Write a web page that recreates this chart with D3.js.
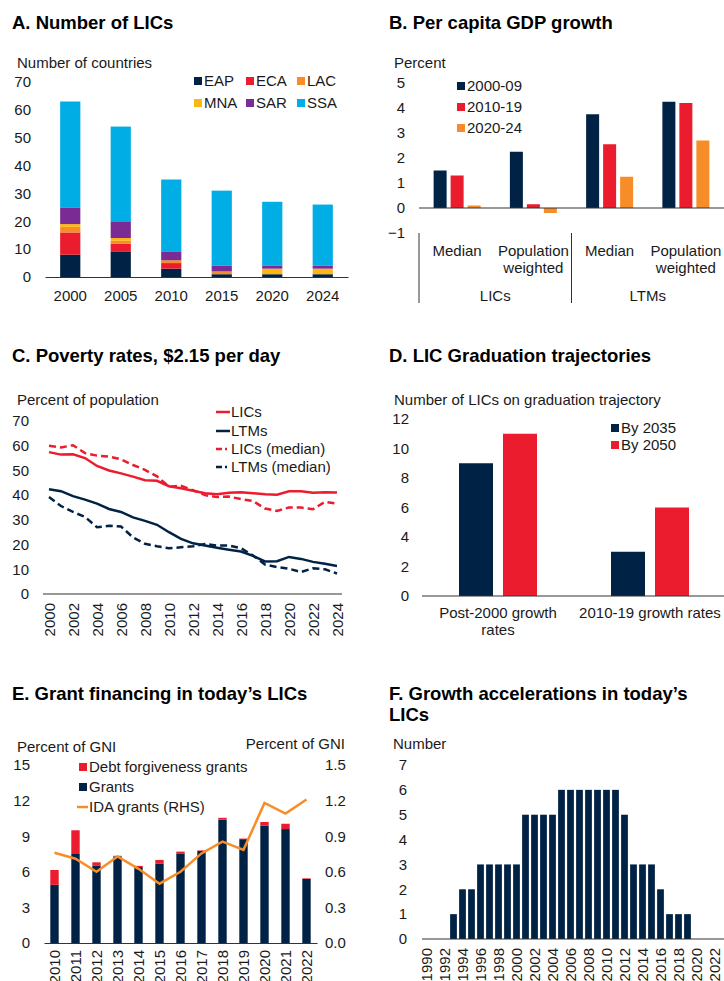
<!DOCTYPE html>
<html>
<head>
<meta charset="utf-8">
<script src="https://cdn.jsdelivr.net/npm/d3@7"></script>
<style>
  body { margin: 0; background: #fff; }
  svg { display: block; font-family: "Liberation Sans", Arial, sans-serif; }
  .title { font-size: 18.5px; font-weight: bold; fill: #000; }
  .lbl { font-size: 15px; fill: #1a1a1a; }
  .axis text { font-size: 15px; fill: #1a1a1a; font-family: "Liberation Sans", Arial, sans-serif; }
  .axis path { stroke: #333; stroke-width: 1.2; }
</style>
</head>
<body>
<div id="chart"></div>
<script>
// ---- colours
const NAVY = "#002345", RED = "#EB1C2D", ORANGE = "#F78D28",
      YELLOW = "#FDB714", PURPLE = "#7A2C94", CYAN = "#00ADE4";

// ---- A. Number of LICs
const aYears = ["2000", "2005", "2010", "2015", "2020", "2024"];
const aRegions = ["EAP", "ECA", "LAC", "MNA", "SAR", "SSA"];
const aEAP = [8, 9, 3, 1, 1, 1];
const aECA = [8, 3, 2, 0, 0, 0];
const aLAC = [2, 1, 1, 1, 0, 0];
const aMNA = [1, 1, 0, 0, 2, 2];
const aSAR = [6, 6, 3, 2, 1, 1];
const aSSA = [38, 34, 26, 27, 23, 22];

// ---- B. Per capita GDP growth
const bGroups = ["LICs Median", "LICs Pop", "LTMs Median", "LTMs Pop"];
const bSeries = ["2000-09", "2010-19", "2020-24"];
const b2000 = [1.5, 2.25, 3.75, 4.25];
const b2010 = [1.3, 0.15, 2.55, 4.2];
const b2020 = [0.1, -0.2, 1.25, 2.7];

// ---- C. Poverty rates
const cYears = d3.range(2000, 2025);
const cLICs = [57.4, 56.4, 56.5, 55, 51.8, 50, 48.8, 47.5, 46, 45.8, 43.6, 42.8, 41.8, 40.8, 40.4, 41, 41.2, 40.8, 40.4, 40.2, 41.6, 41.6, 41, 41.2, 41.1];
const cLTMs = [42.4, 41.6, 39.6, 38.2, 36.6, 34.4, 33.2, 31, 29.6, 28, 25, 22.3, 20.5, 19.6, 18.7, 17.9, 17.2, 15.4, 13.2, 13.3, 15, 14.2, 13, 12.2, 11.3];
const cLICsMed = [60, 59.3, 60.2, 57, 56, 55.6, 54.5, 52.2, 50.2, 47.6, 43.4, 43.8, 42, 40, 39.2, 39.4, 38.4, 37.6, 34.6, 33.6, 35, 35, 34.3, 37.3, 36.6];
const cLTMsMed = [39.2, 35.6, 33.2, 31.2, 27, 27.6, 27.3, 22.9, 20.3, 19.3, 18.5, 18.9, 19.3, 20.2, 19.6, 19.6, 18.5, 15.6, 11.9, 10.9, 10.2, 8.9, 10.4, 10, 8.3];

// ---- D. LIC Graduation trajectories
const dGroups = ["Post-2000 growth rates", "2010-19 growth rates"];
const dSeries = ["By 2035", "By 2050"];
const d2035 = [9, 3];
const d2050 = [11, 6];

// ---- E. Grant financing
const eYears = d3.range(2010, 2023).map(String);
const eGrants = [4.9, 7.5, 6.5, 7.3, 6.4, 6.7, 7.55, 7.75, 10.4, 8.75, 9.9, 9.6, 5.4];
const eDebt = [1.25, 2.0, 0.3, 0.05, 0.1, 0.3, 0.15, 0.05, 0.15, 0.05, 0.3, 0.45, 0.05];
const eIDA = [0.76, 0.71, 0.6, 0.73, 0.625, 0.5, 0.6, 0.755, 0.855, 0.785, 1.18, 1.09, 1.21];

// ---- F. Growth accelerations
const fYears = d3.range(1990, 2024).map(String);
const fCount = [0, 0, 0, 1, 2, 2, 3, 3, 3, 3, 3, 5, 5, 5, 5, 6, 6, 6, 6, 6, 6, 6, 5, 3, 3, 3, 2, 1, 1, 1, 0, 0, 0, 0];

const svg = d3.select("#chart").append("svg")
    .attr("width", 724)
    .attr("height", 981);

function text(x, y, s, cls, anchor) {
    return svg.append("text")
        .attr("class", cls || "lbl")
        .attr("x", x).attr("y", y)
        .attr("text-anchor", anchor || "start")
        .text(s);
}

function leftAxis(scale, x, pad, ticks, fmt) {
    const ax = d3.axisLeft(scale).tickSize(0).tickPadding(pad).tickValues(ticks)
        .tickFormat(fmt || d3.format("d"));
    svg.append("g").attr("class", "axis")
        .attr("transform", `translate(${x},0)`)
        .call(ax)
        .call(g => g.select(".domain").remove());
}

function legendSquare(x, y, color, label, size) {
    const s = size || 8;
    svg.append("rect").attr("x", x).attr("y", y - s / 2).attr("width", s).attr("height", s).attr("fill", color);
    text(x + s + 2, y + 5, label);
}

// ========== Panel A ==========
(function() {
    text(12, 29, "A. Number of LICs", "title");
    text(17, 68, "Number of countries");

    const x = d3.scaleBand().domain(aYears).range([45, 348]).paddingInner(0.6).paddingOuter(0.3);
    const y = d3.scaleLinear().domain([0, 70]).range([277, 82]);

    const rows = aYears.map((yr, i) => ({
        year: yr, EAP: aEAP[i], ECA: aECA[i], LAC: aLAC[i], MNA: aMNA[i], SAR: aSAR[i], SSA: aSSA[i]
    }));
    const color = d3.scaleOrdinal().domain(aRegions).range([NAVY, RED, ORANGE, YELLOW, PURPLE, CYAN]);
    const series = d3.stack().keys(aRegions)(rows);

    svg.append("g").selectAll("g")
        .data(series)
        .join("g")
        .attr("fill", d => color(d.key))
        .selectAll("rect")
        .data(d => d)
        .join("rect")
        .attr("x", d => x(d.data.year))
        .attr("width", x.bandwidth())
        .attr("y", d => y(d[1]))
        .attr("height", d => y(d[0]) - y(d[1]));

    leftAxis(y, 45, 14, d3.range(0, 71, 10));

    svg.append("g").attr("class", "axis")
        .attr("transform", "translate(0,277)")
        .call(d3.axisBottom(x).tickSize(0).tickSizeOuter(0).tickPadding(13));

    const lx = [194, 246, 297];
    aRegions.forEach((r, i) => {
        legendSquare(lx[i % 3], i < 3 ? 81 : 103, color(r), r, 8);
    });
})();

// ========== Panel B ==========
(function() {
    text(389, 29, "B. Per capita GDP growth", "title");
    text(394, 68, "Percent");

    const x0 = d3.scaleBand().domain(bGroups).range([419, 724]);
    const x1 = d3.scaleBand().domain(bSeries).range([0, 47]).paddingInner(4 / 17);
    const y = d3.scaleLinear().domain([-1, 5]).range([233, 83]);
    const color = d3.scaleOrdinal().domain(bSeries).range([NAVY, RED, ORANGE]);
    const vals = [b2000, b2010, b2020];
    const off = (x0.bandwidth() - 47) / 2;

    const data = [];
    bGroups.forEach((g, i) => bSeries.forEach((s, j) => data.push({ g, s, v: vals[j][i] })));

    svg.append("g").selectAll("rect")
        .data(data)
        .join("rect")
        .attr("x", d => x0(d.g) + off + x1(d.s))
        .attr("width", x1.bandwidth())
        .attr("y", d => y(Math.max(0, d.v)))
        .attr("height", d => Math.abs(y(d.v) - y(0)))
        .attr("fill", d => color(d.s));

    leftAxis(y, 419, 14, d3.range(-1, 6));

    svg.append("line")
        .attr("x1", 419).attr("x2", 724)
        .attr("y1", y(0)).attr("y2", y(0))
        .attr("stroke", "#333").attr("stroke-width", 1.2);

    // category labels
    const sub = [["Median"], ["Population", "weighted"], ["Median"], ["Population", "weighted"]];
    bGroups.forEach((g, i) => {
        const cx = x0(g) + x0.bandwidth() / 2;
        sub[i].forEach((s, k) => text(cx, 256 + k * 17, s, "lbl", "middle"));
    });
    text((x0(bGroups[0]) + x0(bGroups[1]) + x0.bandwidth()) / 2, 301, "LICs", "lbl", "middle");
    text((x0(bGroups[2]) + x0(bGroups[3]) + x0.bandwidth()) / 2, 301, "LTMs", "lbl", "middle");
    [x0(bGroups[0]), x0(bGroups[2])].forEach(xx => {
        svg.append("line")
            .attr("x1", xx).attr("x2", xx).attr("y1", 233).attr("y2", 303)
            .attr("stroke", "#333").attr("stroke-width", 1);
    });

    bSeries.forEach((s, i) => legendSquare(457, 86 + i * 21, color(s), s, 8));
})();

// ========== Panel C ==========
(function() {
    text(12, 362, "C. Poverty rates, $2.15 per day", "title");
    text(17, 405, "Percent of population");

    const x = d3.scalePoint().domain(cYears).range([49, 337]);
    const y = d3.scaleLinear().domain([0, 70]).range([594, 421]);

    leftAxis(y, 43, 14, d3.range(0, 71, 10));

    svg.append("line")
        .attr("x1", 43).attr("x2", 342)
        .attr("y1", 594).attr("y2", 594)
        .attr("stroke", "#333").attr("stroke-width", 1.2);

    svg.append("g").attr("class", "axis")
        .attr("transform", "translate(0,594)")
        .call(d3.axisBottom(x).tickSize(0).tickValues(cYears.filter(yr => yr % 2 === 0)))
        .call(g => g.select(".domain").remove())
        .selectAll("text")
        .attr("transform", "rotate(-90)")
        .attr("x", -9)
        .attr("y", 0)
        .attr("dy", "0.35em")
        .style("text-anchor", "end");

    const line = d3.line().x((d, i) => x(cYears[i])).y(d => y(d));
    const lines = [
        { v: cLICs, c: RED, dash: null, name: "LICs" },
        { v: cLTMs, c: NAVY, dash: null, name: "LTMs" },
        { v: cLICsMed, c: RED, dash: "7,4", name: "LICs (median)" },
        { v: cLTMsMed, c: NAVY, dash: "7,4", name: "LTMs (median)" }
    ];
    lines.forEach(l => {
        svg.append("path")
            .datum(l.v)
            .attr("d", line)
            .attr("fill", "none")
            .attr("stroke", l.c)
            .attr("stroke-width", 2.5)
            .attr("stroke-dasharray", l.dash);
    });

    const ly = [412, 431, 449, 467];
    lines.forEach((l, i) => {
        svg.append("line")
            .attr("x1", 216).attr("x2", 230)
            .attr("y1", ly[i]).attr("y2", ly[i])
            .attr("stroke", l.c).attr("stroke-width", 2.5)
            .attr("stroke-dasharray", l.dash ? "6,3,2,3" : null);
        text(231, ly[i] + 5, l.name);
    });
})();

// ========== Panel D ==========
(function() {
    text(389, 362, "D. LIC Graduation trajectories", "title");
    text(394, 405, "Number of LICs on graduation trajectory");

    const x0 = d3.scaleBand().domain(dGroups).range([422, 726]);
    const x1 = d3.scaleBand().domain(dSeries).range([0, 78]).paddingInner(10 / 44);
    const y = d3.scaleLinear().domain([0, 12]).range([596, 419]);
    const color = d3.scaleOrdinal().domain(dSeries).range([NAVY, RED]);
    const vals = [d2035, d2050];
    const off = (x0.bandwidth() - 78) / 2;

    const data = [];
    dGroups.forEach((g, i) => dSeries.forEach((s, j) => data.push({ g, s, v: vals[j][i] })));

    svg.append("g").selectAll("rect")
        .data(data)
        .join("rect")
        .attr("x", d => x0(d.g) + off + x1(d.s))
        .attr("width", x1.bandwidth())
        .attr("y", d => y(d.v))
        .attr("height", d => y(0) - y(d.v))
        .attr("fill", d => color(d.s));

    leftAxis(y, 422, 13, d3.range(0, 13, 2));

    svg.append("line")
        .attr("x1", 422).attr("x2", 724)
        .attr("y1", 596).attr("y2", 596)
        .attr("stroke", "#333").attr("stroke-width", 1.2);

    const cx0 = x0(dGroups[0]) + x0.bandwidth() / 2;
    const cx1 = x0(dGroups[1]) + x0.bandwidth() / 2;
    text(cx0, 618, "Post-2000 growth", "lbl", "middle");
    text(cx0, 635, "rates", "lbl", "middle");
    text(cx1, 618, dGroups[1], "lbl", "middle");

    dSeries.forEach((s, i) => legendSquare(611, 428 + i * 17, color(s), s, 8));
})();

// ========== Panel E ==========
(function() {
    text(12, 700, "E. Grant financing in today\u2019s LICs", "title");
    text(17, 752, "Percent of GNI");
    text(345, 749, "Percent of GNI", "lbl", "end");

    const x = d3.scaleBand().domain(eYears).range([44, 317]).paddingInner(0.6).paddingOuter(0.3);
    const yL = d3.scaleLinear().domain([0, 15]).range([943, 765]);
    const yR = d3.scaleLinear().domain([0, 1.5]).range([943, 765]);

    svg.append("g").selectAll("rect")
        .data(eYears)
        .join("rect")
        .attr("x", d => x(d))
        .attr("width", x.bandwidth())
        .attr("y", (d, i) => yL(eGrants[i]))
        .attr("height", (d, i) => yL(0) - yL(eGrants[i]))
        .attr("fill", NAVY);

    svg.append("g").selectAll("rect")
        .data(eYears)
        .join("rect")
        .attr("x", d => x(d))
        .attr("width", x.bandwidth())
        .attr("y", (d, i) => yL(eGrants[i] + eDebt[i]))
        .attr("height", (d, i) => yL(eGrants[i]) - yL(eGrants[i] + eDebt[i]))
        .attr("fill", RED);

    svg.append("path")
        .datum(eIDA)
        .attr("d", d3.line().x((d, i) => x(eYears[i]) + x.bandwidth() / 2).y(d => yR(d)))
        .attr("fill", "none")
        .attr("stroke", ORANGE)
        .attr("stroke-width", 2.5);

    leftAxis(yL, 44, 14, d3.range(0, 16, 3));

    svg.append("g").attr("class", "axis")
        .attr("transform", "translate(317,0)")
        .call(d3.axisRight(yR).tickSize(0).tickPadding(8).tickValues(d3.range(0, 1.51, 0.3)).tickFormat(d3.format(".1f")))
        .call(g => g.select(".domain").remove());

    svg.append("g").attr("class", "axis")
        .attr("transform", "translate(0,943)")
        .call(d3.axisBottom(x).tickSize(0).tickSizeOuter(0))
        .selectAll("text")
        .attr("transform", "rotate(-90)")
        .attr("x", -7)
        .attr("y", 0)
        .attr("dy", "0.35em")
        .style("text-anchor", "end");

    legendSquare(79, 767, RED, "Debt forgiveness grants", 8);
    legendSquare(79, 787, NAVY, "Grants", 8);
    svg.append("line")
        .attr("x1", 77).attr("x2", 88).attr("y1", 807).attr("y2", 807)
        .attr("stroke", ORANGE).attr("stroke-width", 2.5);
    text(89, 812, "IDA grants (RHS)");
})();

// ========== Panel F ==========
(function() {
    text(389, 700, "F. Growth accelerations in today\u2019s", "title");
    text(389, 721, "LICs", "title");
    text(393, 749, "Number");

    const x = d3.scaleBand().domain(fYears).range([422, 728]).paddingInner(0.25).paddingOuter(0.125);
    const y = d3.scaleLinear().domain([0, 7]).range([939, 765]);

    svg.append("g").selectAll("rect")
        .data(fYears)
        .join("rect")
        .attr("x", d => x(d))
        .attr("width", x.bandwidth())
        .attr("y", (d, i) => y(fCount[i]))
        .attr("height", (d, i) => y(0) - y(fCount[i]))
        .attr("fill", NAVY);

    leftAxis(y, 422, 15, d3.range(0, 8));

    svg.append("line")
        .attr("x1", 422).attr("x2", 724)
        .attr("y1", 939).attr("y2", 939)
        .attr("stroke", "#333").attr("stroke-width", 1.2);

    svg.append("g").attr("class", "axis")
        .attr("transform", "translate(0,939)")
        .call(d3.axisBottom(x).tickSize(0).tickValues(fYears.filter(yr => yr % 2 === 0)))
        .call(g => g.select(".domain").remove())
        .selectAll("text")
        .attr("transform", "rotate(-90)")
        .attr("x", -9)
        .attr("y", 0)
        .attr("dy", "0.35em")
        .style("text-anchor", "end");
})();
</script>
</body>
</html>
